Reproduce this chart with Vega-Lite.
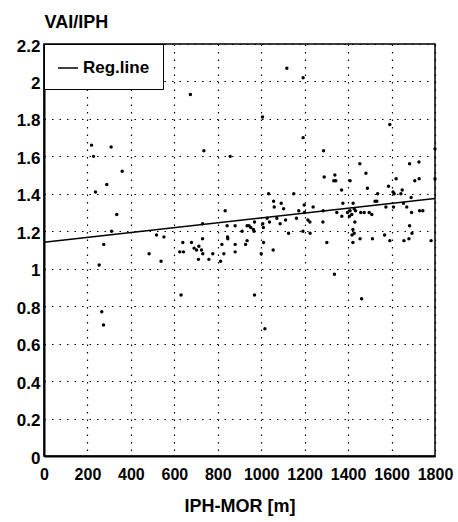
{
  "$schema": "https://vega.github.io/schema/vega-lite/v6.json",
  "autosize": {"type": "none"},
  "width": 391,
  "height": 412,
  "padding": {"left": 44, "top": 44, "right": 23, "bottom": 66},
  "background": "white",
  "config": {
    "view": {"stroke": "black", "strokeWidth": 1.5},
    "font": "Liberation Sans"
  },
  "datasets": {
    "points": [
      {"x":219,"y":1.66},{"x":228,"y":1.60},{"x":237,"y":1.41},{"x":254,"y":1.02},{"x":266,"y":0.77},{"x":274,"y":0.70},{"x":275,"y":1.13},{"x":289,"y":1.45},{"x":309,"y":1.65},{"x":311,"y":1.20},{"x":335,"y":1.29},{"x":360,"y":1.52},
      {"x":484,"y":1.08},{"x":518,"y":1.18},{"x":539,"y":1.04},{"x":552,"y":1.17},{"x":625,"y":1.09},{"x":631,"y":0.86},{"x":639,"y":1.14},{"x":642,"y":1.09},{"x":674,"y":1.93},{"x":679,"y":1.14},{"x":691,"y":1.11},{"x":702,"y":1.10},{"x":711,"y":1.05},{"x":713,"y":1.12},{"x":725,"y":1.10},{"x":730,"y":1.24},{"x":730,"y":1.16},{"x":731,"y":1.08},{"x":736,"y":1.63},{"x":759,"y":1.05},{"x":777,"y":1.08},
      {"x":813,"y":1.04},{"x":819,"y":1.13},{"x":828,"y":1.08},{"x":834,"y":1.31},{"x":843,"y":1.23},{"x":845,"y":1.17},{"x":846,"y":1.16},{"x":857,"y":1.60},{"x":880,"y":1.23},{"x":880,"y":1.13},{"x":880,"y":1.09},{"x":912,"y":1.20},{"x":928,"y":1.13},{"x":935,"y":1.23},{"x":935,"y":1.15},{"x":944,"y":1.23},{"x":952,"y":1.22},{"x":964,"y":1.21},{"x":967,"y":1.20},{"x":969,"y":1.25},{"x":969,"y":0.86},
      {"x":1000,"y":1.08},{"x":1006,"y":1.81},{"x":1007,"y":1.24},{"x":1010,"y":1.22},{"x":1011,"y":1.14},{"x":1017,"y":0.68},{"x":1027,"y":1.27},{"x":1034,"y":1.40},{"x":1038,"y":1.25},{"x":1055,"y":1.10},{"x":1057,"y":1.36},{"x":1060,"y":1.33},{"x":1072,"y":1.27},{"x":1087,"y":1.24},{"x":1092,"y":1.35},{"x":1103,"y":1.32},{"x":1112,"y":1.26},{"x":1118,"y":2.07},{"x":1126,"y":1.19},{"x":1150,"y":1.40},{"x":1162,"y":1.27},{"x":1173,"y":1.31},{"x":1192,"y":1.20},{"x":1193,"y":2.02},{"x":1193,"y":1.70},{"x":1198,"y":1.34},{"x":1199,"y":1.30},
      {"x":1215,"y":1.26},{"x":1224,"y":1.25},{"x":1225,"y":1.19},{"x":1239,"y":1.33},{"x":1284,"y":1.25},{"x":1285,"y":1.31},{"x":1287,"y":1.63},{"x":1290,"y":1.49},{"x":1302,"y":1.14},{"x":1334,"y":1.47},{"x":1337,"y":0.97},{"x":1339,"y":1.50},{"x":1343,"y":1.47},{"x":1348,"y":1.30},{"x":1370,"y":1.42},{"x":1371,"y":1.28},{"x":1376,"y":1.35},{"x":1397,"y":1.30},
      {"x":1406,"y":1.28},{"x":1409,"y":1.47},{"x":1409,"y":1.31},{"x":1417,"y":1.29},{"x":1418,"y":1.18},{"x":1422,"y":1.14},{"x":1422,"y":1.21},{"x":1423,"y":1.35},{"x":1428,"y":1.32},{"x":1428,"y":1.19},{"x":1431,"y":1.25},{"x":1434,"y":1.31},{"x":1454,"y":1.56},{"x":1455,"y":1.16},{"x":1458,"y":1.30},{"x":1462,"y":0.84},{"x":1474,"y":1.30},{"x":1482,"y":1.51},{"x":1489,"y":1.43},{"x":1497,"y":1.30},{"x":1509,"y":1.29},{"x":1512,"y":1.16},{"x":1524,"y":1.36},{"x":1532,"y":1.36},{"x":1536,"y":1.40},{"x":1568,"y":1.18},{"x":1574,"y":1.33},{"x":1586,"y":1.44},{"x":1592,"y":1.77},{"x":1592,"y":1.15},
      {"x":1607,"y":1.41},{"x":1609,"y":1.33},{"x":1612,"y":1.40},{"x":1621,"y":1.48},{"x":1643,"y":1.40},{"x":1649,"y":1.42},{"x":1655,"y":1.35},{"x":1657,"y":1.15},{"x":1670,"y":1.33},{"x":1680,"y":1.16},{"x":1683,"y":1.56},{"x":1683,"y":1.23},{"x":1690,"y":1.38},{"x":1692,"y":1.30},{"x":1694,"y":1.19},{"x":1707,"y":1.47},{"x":1726,"y":1.57},{"x":1727,"y":1.48},{"x":1729,"y":1.31},{"x":1744,"y":1.31},{"x":1782,"y":1.15},{"x":1800,"y":1.64},{"x":1800,"y":1.48}
    ],
    "reg": [
      {"x":0,"y":1.141,"s":"Reg.line"},
      {"x":1800,"y":1.375,"s":"Reg.line"}
    ]
  },
  "encoding": {
    "x": {
      "field": "x", "type": "quantitative",
      "scale": {"domain": [0, 1800], "nice": false, "zero": false},
      "axis": {
        "values": [0,200,400,600,800,1000,1200,1400,1600,1800],
        "format": "d",
        "grid": true, "gridColor": "black", "gridDash": [1.5, 6], "gridWidth": 1.2, "gridOpacity": 1,
        "ticks": false,
        "domainColor": "black", "domainWidth": 2,
        "labelFont": "Liberation Sans", "labelFontWeight": "bold", "labelFontSize": 16, "labelColor": "black",
        "labelPadding": 10, "labelOverlap": false, "labelFlush": false, "labelBound": false,
        "title": "IPH-MOR [m]", "titleFont": "Liberation Sans", "titleFontSize": 18, "titleFontWeight": "bold", "titleColor": "black", "titlePadding": 15
      }
    },
    "y": {
      "field": "y", "type": "quantitative",
      "scale": {"domain": [0, 2.2], "nice": false, "zero": false},
      "axis": {
        "values": [0,0.2,0.4,0.6,0.8,1,1.2,1.4,1.6,1.8,2,2.2],
        "tickCount": 12,
        "format": ".1~f",
        "grid": true, "gridColor": "black", "gridDash": [1.5, 6], "gridWidth": 1.2, "gridOpacity": 1,
        "ticks": false,
        "domainColor": "black", "domainWidth": 2,
        "labelFont": "Liberation Sans", "labelFontWeight": "bold", "labelFontSize": 17, "labelColor": "black",
        "labelPadding": 4, "labelOffset": 2, "labelOverlap": false, "labelFlush": false, "labelBound": false,
        "title": "VAI/IPH", "titleFont": "Liberation Sans", "titleFontSize": 18, "titleFontWeight": "bold", "titleColor": "black",
        "titleAngle": 0, "titleAlign": "left", "titleBaseline": "alphabetic", "titleX": 0, "titleY": -17
      }
    }
  },
  "layer": [
    {
      "data": {"name": "points"},
      "mark": {"type": "circle", "color": "black", "opacity": 1, "size": 12}
    },
    {
      "data": {"name": "reg"},
      "mark": {"type": "line", "strokeWidth": 1.5},
      "encoding": {
        "color": {
          "field": "s", "type": "nominal",
          "scale": {"domain": ["Reg.line"], "range": ["black"]},
          "legend": {
            "title": null, "orient": "top-left", "offset": 0,
            "fillColor": "white", "strokeColor": "black",
            "padding": 13, "symbolType": "stroke", "symbolSize": 400, "symbolStrokeWidth": 1.5,
            "labelFont": "Liberation Sans", "labelFontSize": 17, "labelFontWeight": "bold", "labelColor": "black", "labelOffset": 4
          }
        }
      }
    }
  ]
}
